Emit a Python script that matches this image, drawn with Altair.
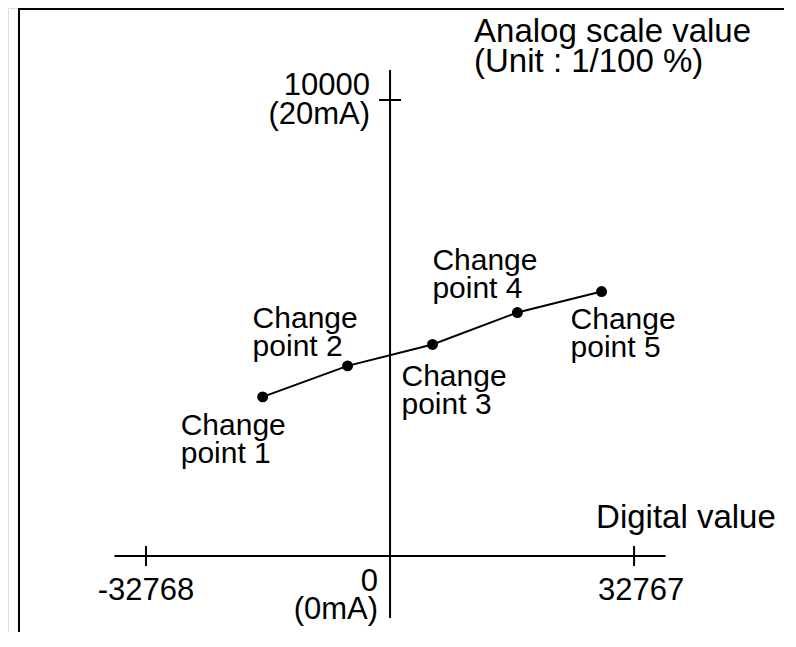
import altair as alt
import pandas as pd

# ---- data ----
digital = [-17100, -5700, 5700, 17100, 28400]
analog = [3490, 4170, 4640, 5340, 5800]
point_labels = ["Change\npoint 1", "Change\npoint 2", "Change\npoint 3",
                "Change\npoint 4", "Change\npoint 5"]

x_ticks = [-32768, 32767]
x_tick_labels = ["-32768", "32767"]
y_tick = [10000]
y_tick_label = ["10000\n(20mA)"]
origin_label = ["0\n(0mA)"]
x_axis_extent = [-37000, 37000]
y_axis_extent = [-1360, 10660]
x_title = "Digital value"
y_title = "Analog scale value\n(Unit : 1/100 %)"

# ---- scales ----
xs = alt.Scale(domain=[-51300, 52900], nice=False, zero=False)
ys = alt.Scale(domain=[-1666, 12018], nice=False, zero=False)
FONT = "Liberation Sans"

pts = pd.DataFrame({"x": digital, "y": analog, "label": point_labels})


def X(f="x"):
    return alt.X(f"{f}:Q", scale=xs, axis=None)


def Y(f="y"):
    return alt.Y(f"{f}:Q", scale=ys, axis=None)


layers = []

# frame (top and left edges)
layers.append(alt.Chart(pd.DataFrame({"a": [0]})).mark_rule(color="black", strokeWidth=2).encode(
    x=alt.value(10), x2=alt.value(776), y=alt.value(1)))
layers.append(alt.Chart(pd.DataFrame({"a": [0]})).mark_rule(color="black", strokeWidth=2).encode(
    x=alt.value(11), y=alt.value(1), y2=alt.value(624)))

# axes lines
hax = pd.DataFrame({"x": [x_axis_extent[0]], "x2": [x_axis_extent[1]], "y": [0]})
layers.append(alt.Chart(hax).mark_rule(color="black", strokeWidth=2).encode(
    x=X(), x2="x2:Q", y=Y()))
vax = pd.DataFrame({"y": [y_axis_extent[0]], "y2": [y_axis_extent[1]], "x": [0]})
layers.append(alt.Chart(vax).mark_rule(color="black", strokeWidth=2).encode(
    x=X(), y=Y(), y2="y2:Q"))

# tick marks
xt = pd.DataFrame({"x": x_ticks, "y": [0, 0], "label": x_tick_labels})
layers.append(alt.Chart(xt).mark_tick(orient="vertical", size=20, thickness=2, color="black", opacity=1).encode(
    x=X(), y=Y()))
yt = pd.DataFrame({"x": [0], "y": y_tick, "label": y_tick_label})
layers.append(alt.Chart(yt).mark_tick(orient="horizontal", size=22, thickness=2, color="black", opacity=1).encode(
    x=X(), y=Y()))

# tick labels
for i, dx in enumerate([0, 7]):
    layers.append(alt.Chart(xt.iloc[[i]]).mark_text(
        font=FONT, fontSize=31, align="center", baseline="alphabetic", dx=dx, dy=44, color="black"
    ).encode(x=X(), y=Y(), text="label:N"))

layers.append(alt.Chart(yt).mark_text(
    font=FONT, fontSize=31, align="right", baseline="alphabetic", dx=-20, dy=-5,
    lineBreak="\n", lineHeight=29, color="black"
).encode(x=X(), y=Y(), text="label:N"))

org = pd.DataFrame({"x": [0], "y": [0], "label": origin_label})
layers.append(alt.Chart(org).mark_text(
    font=FONT, fontSize=31, align="right", baseline="alphabetic", dx=-12, dy=35,
    lineBreak="\n", lineHeight=28, color="black"
).encode(x=X(), y=Y(), text="label:N"))

# axis titles
xtt = pd.DataFrame({"x": [x_ticks[1]], "y": [0], "label": [x_title]})
layers.append(alt.Chart(xtt).mark_text(
    font=FONT, fontSize=33, align="left", baseline="alphabetic", dx=-38, dy=-28, color="black"
).encode(x=X(), y=Y(), text="label:N"))
ytt = pd.DataFrame({"x": [0], "y": y_tick, "label": [y_title]})
layers.append(alt.Chart(ytt).mark_text(
    font=FONT, fontSize=33, align="left", baseline="alphabetic", dx=84, dy=-58,
    lineBreak="\n", lineHeight=30, color="black"
).encode(x=X(), y=Y(), text="label:N"))

# data line and points
layers.append(alt.Chart(pts).mark_line(color="black", strokeWidth=2).encode(
    x=X(), y=Y(), order="x:Q"))
layers.append(alt.Chart(pts).mark_circle(color="black", size=120, opacity=1).encode(
    x=X(), y=Y()))

# change point labels
offsets = [(-82, 38), (-95, -38), (-31, 42), (-85, -43), (-31, 37)]
for i, (dx, dy) in enumerate(offsets):
    layers.append(alt.Chart(pts.iloc[[i]]).mark_text(
        font=FONT, fontSize=30, align="left", baseline="alphabetic", dx=dx, dy=dy,
        lineBreak="\n", lineHeight=28, color="black"
    ).encode(x=X(), y=Y(), text="label:N"))

chart = alt.layer(*layers).properties(
    width=776, height=624, padding=0,
    autosize=alt.AutoSizeParams(type="none"),
).configure_view(stroke=None).configure(background="white")

chart.save("out.html", embed_options={"renderer": "svg", "actions": False})
